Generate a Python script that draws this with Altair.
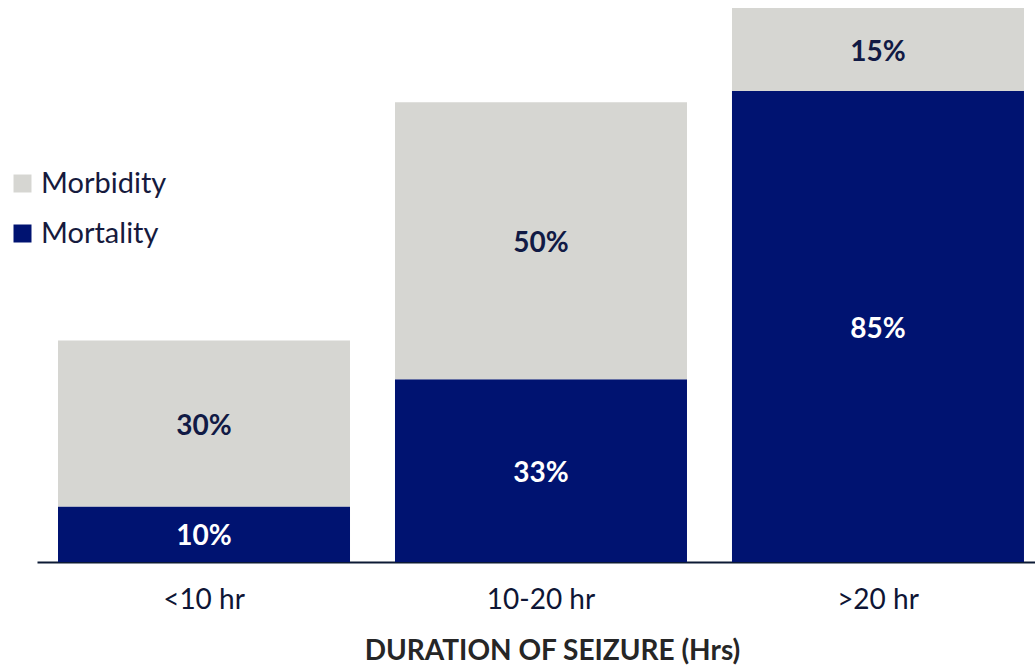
import altair as alt
import pandas as pd

# Seizure duration groups and outcome rates (%)
categories = ["<10 hr", "10-20 hr", ">20 hr"]
mortality = [10, 33, 85]
morbidity = [30, 50, 15]

series_names = ["Morbidity", "Mortality"]
series_colors = ["#D6D6D2", "#001371"]
label_colors = {"Morbidity": "#111A45", "Mortality": "#FFFFFF"}
stack_order = {"Mortality": 0, "Morbidity": 1}

rows = []
for cat, mo, mb in zip(categories, mortality, morbidity):
    for name, val in (("Mortality", mo), ("Morbidity", mb)):
        rows.append({
            "duration": cat,
            "series": name,
            "value": val,
            "order": stack_order[name],
            "label": f"{val}%",
            "tc": label_colors[name],
        })
df = pd.DataFrame(rows)

FONT = "Lato"

base = alt.Chart(df).transform_stack(
    stack="value",
    groupby=["duration"],
    as_=["y0", "y1"],
    sort=[alt.SortField("order", order="ascending")],
).transform_calculate(
    mid="(datum.y0 + datum.y1) / 2"
)

x_scale = alt.Scale(paddingInner=0.1335, paddingOuter=0.0475, align=0.656)

x_enc = alt.X(
    "duration:N",
    sort=categories,
    scale=x_scale,
    axis=alt.Axis(
        title="DURATION OF SEIZURE (Hrs)",
        labelAngle=0,
        labelFont=FONT,
        labelFontSize=28,
        labelColor="#0E1535",
        labelPadding=24,
        ticks=False,
        grid=False,
        domainColor="#0C1A35",
        domainWidth=2,
        titleFont=FONT,
        titleFontSize=28,
        titleFontWeight="bold",
        titleColor="#262626",
        titleX=515,
        titleY=97,
        titleAlign="center",
        titleBaseline="alphabetic",
    ),
)

y_scale = alt.Scale(domain=[0, 100], nice=False, zero=True)

bars = base.mark_bar().encode(
    x=x_enc,
    y=alt.Y("y0:Q", scale=y_scale, axis=None),
    y2="y1:Q",
    color=alt.Color(
        "series:N",
        scale=alt.Scale(domain=series_names, range=series_colors),
        legend=alt.Legend(
            title=None,
            orient="none",
            legendX=-29,
            legendY=161,
            padding=0,
            symbolType="square",
            symbolSize=324,
            symbolStrokeWidth=0,
            labelFont=FONT,
            labelFontSize=29,
            labelColor="#161A3D",
            labelOffset=4,
            rowPadding=20,
        ),
    ),
)

labels = base.mark_text(
    font=FONT, fontSize=28, fontWeight="bold", baseline="middle", dy=3
).encode(
    x=x_enc,
    y=alt.Y("mid:Q", scale=y_scale, axis=None),
    text="label:N",
    color=alt.Color("tc:N", scale=None),
)

chart = (
    alt.layer(bars, labels)
    .properties(
        width=998,
        height=554,
        background="#FFFFFF",
        autosize=alt.AutoSizeParams(type="none"),
        padding={"left": 37, "top": 8, "right": 0, "bottom": 105},
    )
    .configure_view(stroke="transparent", strokeWidth=0)
)

chart.save("out.html", embed_options={"renderer": "svg", "actions": False})
